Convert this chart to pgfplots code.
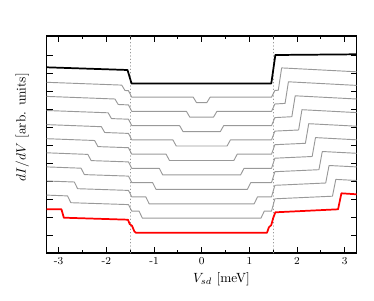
\documentclass[border=0pt]{standalone}
\usepackage{pgfplots}
\pgfplotsset{compat=1.18}
\begin{document}
\begin{tikzpicture}
\path[use as bounding box] (-35pt,-35.25pt) rectangle (245.5pt,189.75pt);
\begin{axis}[
  scale only axis,
  width=232.5pt, height=162.75pt,
  xmin=-3.25, xmax=3.25, ymin=0, ymax=217,
  xtick={-3,-2,-1,0,1,2,3},
  xticklabels={-3,-2,-1,0,1,2,3},
  minor xtick={-2.5,-1.5,-0.5,0.5,1.5,2.5},
  ytick={18,36,54,72,90,108,126,144,162,180,198},
  yticklabels={},
  major tick length=4.5pt, minor tick length=2.5pt,
  tick style={line width=0.7pt, black},
  axis line style={line width=0.9pt},
  xticklabel style={font=\footnotesize},
  xlabel={$V_{sd}$ [meV]},
  ylabel={$dI/dV$ [arb. units]},
  every axis x label/.style={at={(axis description cs:0.564,0)}, anchor=center, yshift=-19.6pt},
  every axis y label/.style={at={(axis description cs:0,0.58)}, anchor=center, rotate=90, yshift=18.2pt},
  every axis plot/.append style={line join=round, line cap=round},
]
\addplot[black!40, line width=0.5pt, dotted] coordinates {(-1.5,0) (-1.5,217)};
\addplot[black!40, line width=0.5pt, dotted] coordinates {(1.5,0) (1.5,217)};
% gray curves
\addplot[black!40, line width=0.7pt] coordinates {(-3.25,170.7) (-1.677,167.9) (-1.607,162.5) (-1.535,162.3) (-1.465,155.8) (-0.177,155.8) (-0.107,150.3) (0.107,150.3) (0.177,155.8) (1.465,155.8) (1.535,162.5) (1.607,162.8) (1.677,185.1) (3.25,181.2)};
\addplot[black!40, line width=0.7pt] coordinates {(-3.25,156.6) (-1.819,154.0) (-1.749,148.5) (-1.535,148.1) (-1.465,141.6) (-0.319,141.6) (-0.249,135.9) (0.249,135.9) (0.319,141.6) (1.465,141.6) (1.535,149.0) (1.749,149.6) (1.819,171.2) (3.25,167.6)};
\addplot[black!40, line width=0.7pt] coordinates {(-3.25,142.5) (-1.961,140.2) (-1.891,134.4) (-1.535,133.8) (-1.465,127.3) (-0.461,127.3) (-0.391,121.4) (0.391,121.4) (0.461,127.3) (1.465,127.3) (1.535,135.4) (1.891,136.3) (1.961,157.2) (3.25,154.0)};
\addplot[black!40, line width=0.7pt] coordinates {(-3.25,128.4) (-2.103,126.3) (-2.033,120.5) (-1.535,119.6) (-1.465,113.1) (-0.603,113.1) (-0.533,107.0) (0.533,107.0) (0.603,113.1) (1.465,113.1) (1.535,121.9) (2.033,123.0) (2.103,143.3) (3.25,140.4)};
\addplot[black!40, line width=0.7pt] coordinates {(-3.25,114.3) (-2.245,112.5) (-2.175,106.4) (-1.535,105.3) (-1.465,98.8) (-0.745,98.8) (-0.675,92.5) (0.675,92.5) (0.745,98.8) (1.465,98.8) (1.535,108.3) (2.175,109.7) (2.245,129.3) (3.25,126.8)};
\addplot[black!40, line width=0.7pt] coordinates {(-3.25,100.2) (-2.387,98.6) (-2.317,92.4) (-1.535,91.1) (-1.465,84.6) (-0.887,84.6) (-0.817,78.1) (0.817,78.1) (0.887,84.6) (1.465,84.6) (1.535,94.8) (2.317,96.5) (2.387,115.4) (3.25,113.2)};
\addplot[black!40, line width=0.7pt] coordinates {(-3.25,86.1) (-2.529,84.8) (-2.459,78.4) (-1.535,76.9) (-1.465,70.4) (-1.029,70.4) (-0.959,63.7) (0.959,63.7) (1.029,70.4) (1.465,70.4) (1.535,81.3) (2.459,83.3) (2.529,101.5) (3.25,99.7)};
\addplot[black!40, line width=0.7pt] coordinates {(-3.25,72.0) (-2.671,71.0) (-2.601,64.3) (-1.535,62.6) (-1.465,56.1) (-1.171,56.1) (-1.101,49.2) (1.101,49.2) (1.171,56.1) (1.465,56.1) (1.535,67.7) (2.601,70.0) (2.671,87.5) (3.25,86.1)};
\addplot[black!40, line width=0.7pt] coordinates {(-3.25,57.9) (-2.813,57.1) (-2.743,50.3) (-1.535,48.4) (-1.465,41.9) (-1.313,41.9) (-1.243,34.8) (1.243,34.8) (1.313,41.9) (1.465,41.9) (1.535,54.2) (2.743,56.8) (2.813,73.6) (3.25,72.5)};
% red
\addplot[red, line width=1.3pt] coordinates {(-3.25,43.7) (-2.94,43.7) (-2.89,35.3) (-1.545,33.3) (-1.51,29.0) (-1.46,27.2) (-1.41,21.5) (-1.38,20.3) (1.37,20.3) (1.41,25.7) (1.46,28.0) (1.50,35.0) (1.545,40.7) (2.86,43.7) (2.93,59.7) (3.25,58.7)};
% black
\addplot[black, line width=1.3pt] coordinates {(-3.25,185.7) (-1.555,183.0) (-1.47,169.5) (1.46,169.5) (1.545,198.0) (3.25,198.7)};
\end{axis}
\end{tikzpicture}
\end{document}
